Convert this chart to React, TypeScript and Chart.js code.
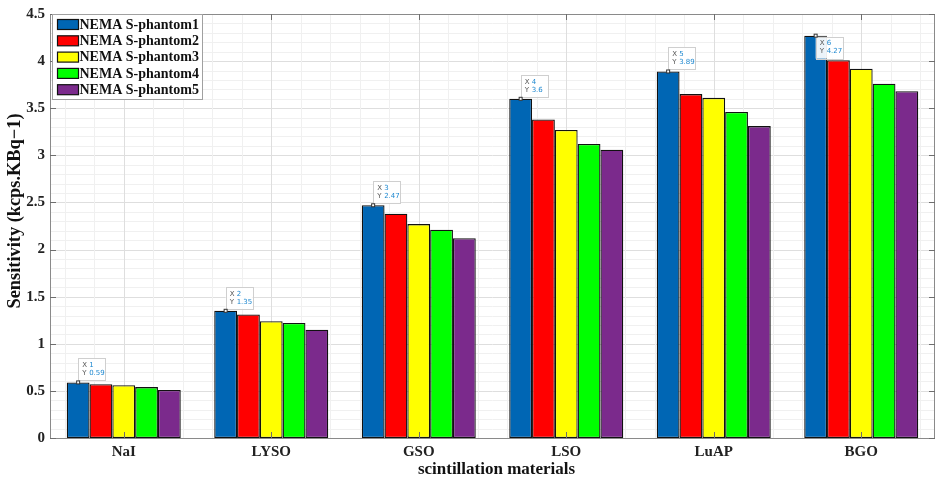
import React, { useEffect, useRef } from "react";
import { Chart, registerables } from "chart.js";

Chart.register(...registerables);

const categories = ["NaI", "LYSO", "GSO", "LSO", "LuAP", "BGO"];
const seriesNames = [
  "NEMA S-phantom1",
  "NEMA S-phantom2",
  "NEMA S-phantom3",
  "NEMA S-phantom4",
  "NEMA S-phantom5",
];
const phantom1 = [0.59, 1.35, 2.47, 3.6, 3.89, 4.27];
const phantom2 = [0.57, 1.31, 2.38, 3.38, 3.65, 4.01];
const phantom3 = [0.56, 1.24, 2.27, 3.27, 3.61, 3.92];
const phantom4 = [0.54, 1.22, 2.21, 3.12, 3.46, 3.76];
const phantom5 = [0.51, 1.15, 2.12, 3.06, 3.31, 3.68];
const seriesColors = ["#0066b4", "#ff0000", "#ffff00", "#00ff00", "#7b2a8c"];
const yTitle = "Sensitivity (kcps.KBq\u22121)";
const xTitle = "scintillation materials";
const tipXLabels = ["1", "2", "3", "4", "5", "6"];
const tipYLabels = ["0.59", "1.35", "2.47", "3.6", "3.89", "4.27"];

const SERIF = "'Liberation Serif', 'Times New Roman', serif";

const matlabPlugin = {
  id: "matlabStyle",
  beforeDatasetsDraw(chart: any) {
    const { ctx, chartArea: a, scales } = chart;
    const y = scales.y;
    ctx.save();
    ctx.fillStyle = "#ffffff";
    ctx.fillRect(a.left, a.top, a.right - a.left, a.bottom - a.top);
    ctx.lineWidth = 1;
    for (let k = 0; k <= 45; k++) {
      const py = Math.round(y.getPixelForValue(k / 10)) + 0.5;
      ctx.strokeStyle = k % 5 === 0 ? "#dedede" : "#f0f0f0";
      ctx.beginPath();
      ctx.moveTo(a.left, py);
      ctx.lineTo(a.right, py);
      ctx.stroke();
    }
    const n = categories.length;
    const cw = (a.right - a.left) / n;
    for (let k = 3; k <= 5 * n + 2; k++) {
      const v = k * 0.2;
      const px = Math.round(a.left + (v - 0.5) * cw) + 0.5;
      ctx.strokeStyle = k % 5 === 0 ? "#dedede" : "#f0f0f0";
      ctx.beginPath();
      ctx.moveTo(px, a.top);
      ctx.lineTo(px, a.bottom);
      ctx.stroke();
    }
    ctx.restore();
  },
  afterDatasetsDraw(chart: any) {
    const { ctx, chartArea: a, scales } = chart;
    const y = scales.y;
    const n = categories.length;
    const cw = (a.right - a.left) / n;
    ctx.save();
    // frame
    ctx.strokeStyle = "#8a8a8a";
    ctx.lineWidth = 1;
    ctx.strokeRect(Math.round(a.left) + 0.5, Math.round(a.top) + 0.5, Math.round(a.right - a.left) - 1, Math.round(a.bottom - a.top));
    // ticks
    ctx.strokeStyle = "#6e6e6e";
    const tl = 6;
    for (let k = 0; k <= 9; k++) {
      const py = Math.round(y.getPixelForValue(k / 2)) + 0.5;
      ctx.beginPath();
      ctx.moveTo(a.left, py);
      ctx.lineTo(a.left + tl, py);
      ctx.moveTo(a.right, py);
      ctx.lineTo(a.right - tl, py);
      ctx.stroke();
    }
    for (let i = 0; i < n; i++) {
      const px = Math.round(a.left + (i + 0.5) * cw) + 0.5;
      ctx.beginPath();
      ctx.moveTo(px, a.bottom);
      ctx.lineTo(px, a.bottom - tl);
      ctx.moveTo(px, a.top);
      ctx.lineTo(px, a.top + tl);
      ctx.stroke();
    }
    // data tips on first series
    const meta = chart.getDatasetMeta(0);
    meta.data.forEach((bar: any, i: number) => {
      const px = bar.x;
      const py = bar.y;
      const bw = 27;
      const bh = 22;
      const top = py - a.top > 30 ? py - bh - 2 : py + 1;
      ctx.fillStyle = "rgba(255,255,255,0.92)";
      ctx.fillRect(px, top, bw, bh);
      ctx.strokeStyle = "#cfcfcf";
      ctx.lineWidth = 1;
      ctx.strokeRect(Math.round(px) + 0.5, Math.round(top) + 0.5, bw, bh);
      ctx.font = "7px 'DejaVu Sans', sans-serif";
      ctx.textBaseline = "middle";
      ctx.textAlign = "left";
      ctx.fillStyle = "#555";
      ctx.fillText("X", px + 4, top + 7);
      ctx.fillText("Y", px + 4, top + 15);
      ctx.fillStyle = "#1e88d0";
      ctx.fillText(tipXLabels[i], px + 11, top + 7);
      ctx.fillText(tipYLabels[i], px + 11, top + 15);
      ctx.fillStyle = "#ffffff";
      ctx.strokeStyle = "#333";
      ctx.fillRect(px - 1.5, py - 1.5, 3, 3);
      ctx.strokeRect(px - 1.5, py - 1.5, 3, 3);
    });
    // legend
    const lx = Math.round(a.left) + 2.5;
    const ly = Math.round(a.top) + 0.5;
    const lw = 150;
    const lh = 85;
    ctx.fillStyle = "#ffffff";
    ctx.fillRect(lx, ly, lw, lh);
    ctx.strokeStyle = "#a0a0a0";
    ctx.strokeRect(lx, ly, lw, lh);
    seriesNames.forEach((name, i) => {
      const ry = ly + 5 + i * 16.3;
      ctx.fillStyle = seriesColors[i];
      ctx.fillRect(lx + 5, ry, 21, 10);
      ctx.strokeStyle = "#111";
      ctx.lineWidth = 1.2;
      ctx.strokeRect(lx + 5, ry, 21, 10);
      ctx.fillStyle = "#111";
      ctx.font = `bold 14px ${SERIF}`;
      ctx.textBaseline = "middle";
      ctx.textAlign = "left";
      ctx.fillText(name, lx + 27, ry + 5.5);
    });
    // axis titles
    ctx.fillStyle = "#111";
    ctx.font = `bold 17px ${SERIF}`;
    ctx.textAlign = "center";
    ctx.textBaseline = "alphabetic";
    ctx.fillText(xTitle, (a.left + a.right) / 2 + 4, 474);
    ctx.save();
    ctx.font = `bold 18px ${SERIF}`;
    ctx.translate(20, 211);
    ctx.rotate(-Math.PI / 2);
    const w = ctx.measureText(yTitle).width;
    const s = 195 / w;
    ctx.scale(s, 1);
    ctx.textBaseline = "alphabetic";
    ctx.fillText(yTitle, 0, 0);
    ctx.restore();
    ctx.restore();
  },
};

export default function App() {
  const ref = useRef<HTMLCanvasElement | null>(null);
  useEffect(() => {
    document.body.style.margin = "0";
    if (!ref.current) return;
    const all = [phantom1, phantom2, phantom3, phantom4, phantom5];
    const chart = new Chart(ref.current, {
      type: "bar",
      data: {
        labels: categories,
        datasets: all.map((d, i) => ({
          label: seriesNames[i],
          data: d,
          backgroundColor: seriesColors[i],
          borderColor: "#111111",
          borderWidth: 1.3,
          borderSkipped: false,
          categoryPercentage: 0.773,
          barPercentage: 1.0,
        })),
      },
      options: {
        animation: false,
        responsive: true,
        maintainAspectRatio: false,
        layout: { padding: { top: 13, right: 1, left: 0, bottom: 0 } },
        plugins: {
          legend: { display: false },
          tooltip: { enabled: false },
        },
        scales: {
          x: {
            grid: { display: false, drawTicks: false },
            border: { display: false },
            ticks: {
              color: "#222",
              font: { family: SERIF, size: 15, weight: "bold" },
              padding: 5,
            },
            afterFit: (scale: any) => {
              scale.height = 39;
            },
          },
          y: {
            min: 0,
            max: 4.5,
            grid: { display: false, drawTicks: false },
            border: { display: false },
            ticks: {
              stepSize: 0.5,
              color: "#222",
              font: { family: SERIF, size: 15, weight: "bold" },
              padding: 5,
              callback: (v: any) => String(Math.round(Number(v) * 10) / 10),
            },
            afterFit: (scale: any) => {
              scale.width = 50;
            },
          },
        },
      },
      plugins: [matlabPlugin],
    });
    return () => chart.destroy();
  }, []);
  return (
    <div style={{ width: 936, height: 477, position: "relative" }}>
      <canvas ref={ref} />
    </div>
  );
}
